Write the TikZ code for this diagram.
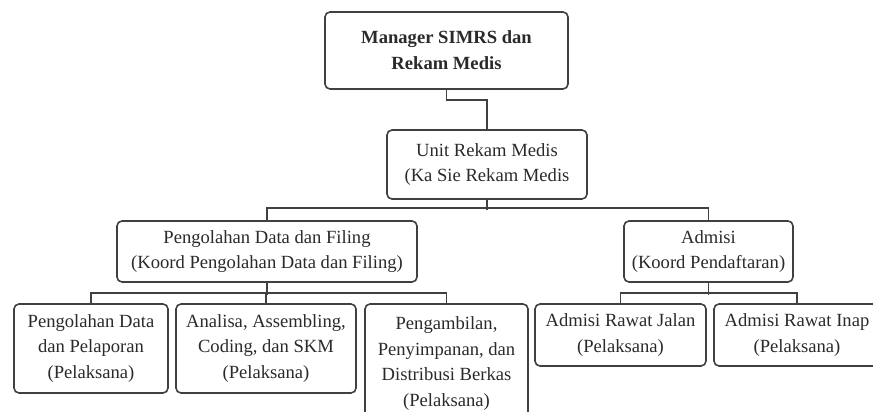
\documentclass[tikz,border=0pt]{standalone}
\usepackage{fontspec}
\setmainfont{Liberation Serif}
\definecolor{linec}{HTML}{404040}
\definecolor{textc}{HTML}{2A2A2A}
\tikzset{
  orgbox/.style={draw=linec, line width=1.6pt, rounded corners=5pt, align=center,
    inner sep=0pt, text=textc, font=\fontsize{18.6}{25.5}\selectfont},
  conn/.style={draw=linec, line width=1.6pt}
}
\begin{document}
\begin{tikzpicture}[x=1pt,y=-1pt]
\useasboundingbox (0,0) rectangle (873,412);
\clip (0,0) rectangle (873,412);
\node[orgbox, minimum width=243pt, minimum height=77pt, font=\bfseries\fontsize{18.6}{26}\selectfont] (mgr) at (446.5,50.5) {Manager SIMRS dan\\Rekam Medis};
\node[orgbox, minimum width=200pt, minimum height=69pt] (unit) at (487,164.5) {Unit Rekam Medis\\(Ka Sie Rekam Medis};
\node[orgbox, minimum width=300pt, minimum height=61pt] (pdf) at (267,251.5) {Pengolahan Data dan Filing\\(Koord Pengolahan Data dan Filing)};
\node[orgbox, minimum width=169pt, minimum height=61pt] (adm) at (708.5,251.5) {Admisi\\(Koord Pendaftaran)};
\node[orgbox, minimum width=154pt, minimum height=89pt] (b1) at (91,348.5) {Pengolahan Data\\dan Pelaporan\\(Pelaksana)};
\node[orgbox, minimum width=180pt, minimum height=89pt] (b2) at (266,348.5) {Analisa, Assembling,\\Coding, dan SKM\\(Pelaksana)};
\node[orgbox, minimum width=163pt, minimum height=119pt] (b3) at (446.5,363.5) {Pengambilan,\\Penyimpanan, dan\\Distribusi Berkas\\(Pelaksana)};
\node[orgbox, minimum width=171pt, minimum height=62pt] (rj) at (620.5,335) {Admisi Rawat Jalan\\(Pelaksana)};
\node[orgbox, minimum width=166pt, minimum height=62pt] (ri) at (797,335) {Admisi Rawat Inap\\(Pelaksana)};
% connectors
\draw[conn] (mgr.south) -- ++(0,10) -| (unit.north);
\draw[conn] (unit.south) -- ++(0,10);
\draw[conn] (pdf.north) -- ++(0,-12) -| (adm.north);
\draw[conn] (pdf.south) -- ++(0,12);
\draw[conn] (b1.north) -- ++(0,-10) -| (b3.north);
\draw[conn] (b2.north) -- ++(0,-10);
\draw[conn] (adm.south) -- ++(0,12);
\draw[conn] (rj.north) -- ++(0,-10) -| (ri.north);
\end{tikzpicture}
\end{document}
